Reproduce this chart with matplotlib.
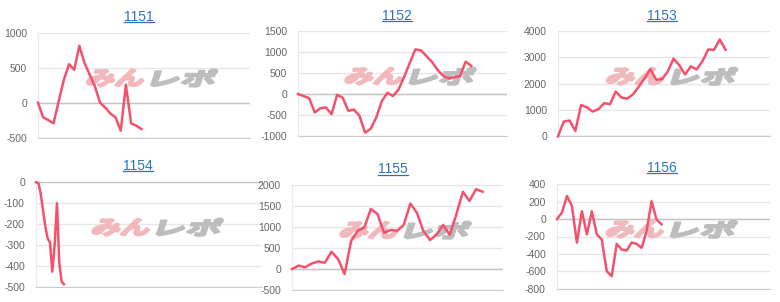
import matplotlib
matplotlib.use("Agg")
import matplotlib.pyplot as plt
from matplotlib.textpath import TextPath
from matplotlib.patches import PathPatch
from matplotlib.font_manager import FontProperties
from matplotlib.transforms import Affine2D
from matplotlib.lines import Line2D

plt.rcParams["font.family"] = ["Liberation Sans", "DejaVu Sans"]
plt.rcParams["axes.unicode_minus"] = False

W, H = 780, 302

# machine numbers
titles = ["1151", "1152", "1153", "1154", "1155", "1156"]

# cumulative difference per machine
s1151 = [0, -212, -250, -297, 20, 330, 552, 472, 816, 567, 401, 235, 0,
         -71, -156, -212, -402, 259, -297, -331, -378]
s1152 = [0, -50, -100, -440, -340, -320, -480, -20, -90, -400, -370, -520,
         -920, -830, -560, -170, 30, -50, 110, 410, 740, 1060, 1040, 900,
         760, 570, 430, 370, 400, 430, 770, 670]
s1153 = [0, 560, 600, 200, 1190, 1100, 940, 1030, 1260, 1220, 1700, 1470,
         1430, 1600, 1890, 2200, 2550, 2150, 2170, 2460, 2950, 2700, 2350,
         2660, 2540, 2850, 3300, 3280, 3680, 3290]
s1154 = [0, -3, -53, -133, -212, -268, -289, -428, -300, -100, -388, -476,
         -488]
s1155 = [0, 80, 40, 130, 180, 150, 410, 240, -120, 670, 910, 990, 1430,
         1310, 860, 930, 910, 1050, 1560, 1340, 900, 690, 820, 1050, 810,
         1300, 1840, 1620, 1900, 1840]
s1156 = [0, 75, 265, 150, -270, 90, -175, 90, -175, -235, -600, -655, -285,
         -350, -360, -270, -285, -330, -140, 205, -5, -60]
series = [s1151, s1152, s1153, s1154, s1155, s1156]

# y tick values
yticks = [
    [-500, 0, 500, 1000],
    [-1000, -500, 0, 500, 1000, 1500],
    [0, 1000, 2000, 3000, 4000],
    [-500, -400, -300, -200, -100, 0],
    [-500, 0, 500, 1000, 1500, 2000],
    [-800, -600, -400, -200, 0, 200, 400],
]
xmax = [41, 37.4, 36.7, 97, 32.1, 42.8]

# plot boxes in pixels: left, right, top, bottom
boxes = [
    (38, 250, 33, 137.5),
    (298, 507, 31, 136),
    (558, 770, 31, 136.3),
    (36, 262, 182.3, 286.7),
    (292, 503, 185, 290),
    (557, 770, 184.3, 288.7),
]
# title positions (center x, baseline y) in pixels
title_pos = [(139, 20.7), (397, 19.6), (662, 20), (138, 169.8), (393, 173.4), (662, 171.7)]

line_color = "#f4516c"
link_color = "#2a72c6"

fig = plt.figure(figsize=(W / 100, H / 100), dpi=100)
fig.patch.set_facecolor("white")

logo_font = FontProperties(family="Noto Sans CJK JP", weight="bold")


def add_logo(ax, wpx, hpx):
    # watermark in the middle of every chart
    parts = [("みん", "#f2b9bd", 56), ("レポ", "#bdbdbd", 62)]
    cx, cy = 0.54 * wpx, 0.57 * hpx
    x = cx - 64
    for s, col, wpart in parts:
        p = TextPath((0, 0), s, size=100, prop=logo_font)
        ext = p.get_extents()
        tr = (Affine2D().translate(-ext.x0, -ext.y0)
              .scale(wpart / ext.width, 17 / ext.height)
              .skew_deg(18, 0)
              .translate(x - 3, cy - 8.5)
              .scale(1 / wpx, 1 / hpx) + ax.transAxes)
        ax.add_patch(PathPatch(p, facecolor=col, edgecolor=col, lw=1.6,
                               joinstyle="round", transform=tr, zorder=0.6))
        x += wpart + 9


title_texts = []
for i in range(6):
    l, r, t, b = boxes[i]
    ax = fig.add_axes([l / W, (H - b) / H, (r - l) / W, (b - t) / H])
    ax.set_facecolor("none")
    vals = series[i]
    ax.plot(range(len(vals)), vals, color=line_color, lw=1.8, zorder=3,
            clip_on=False)
    ax.set_xlim(0, xmax[i])
    ax.set_ylim(yticks[i][0], yticks[i][-1])
    ax.set_yticks(yticks[i])
    ax.set_xticks([])
    ax.yaxis.grid(True, color="#e6e6e6", lw=1)
    ax.set_axisbelow(True)
    ax.axhline(0, color="#c4c4c4", lw=1, zorder=1)
    ax.tick_params(axis="y", length=0, pad=8, labelsize=7.5, labelcolor="#666666")
    for side in ["top", "right"]:
        ax.spines[side].set_visible(False)
    ax.spines["bottom"].set_color("#cccccc")
    ax.spines["left"].set_color("#e8e8e8")
    add_logo(ax, r - l, b - t)

    tx, ty = title_pos[i]
    txt = fig.text(tx / W, (H - ty) / H, titles[i], ha="center", va="baseline",
                   fontsize=10, color=link_color)
    title_texts.append((txt, ty))

# underline the titles like links
fig.canvas.draw()
renderer = fig.canvas.get_renderer()
for txt, ty in title_texts:
    bb = txt.get_window_extent(renderer)
    yy = (H - ty - 1.3) / H
    fig.add_artist(Line2D([bb.x0 / W, bb.x1 / W], [yy, yy], color=link_color,
                          lw=0.9, transform=fig.transFigure))

fig.savefig("out.png", dpi=100)
